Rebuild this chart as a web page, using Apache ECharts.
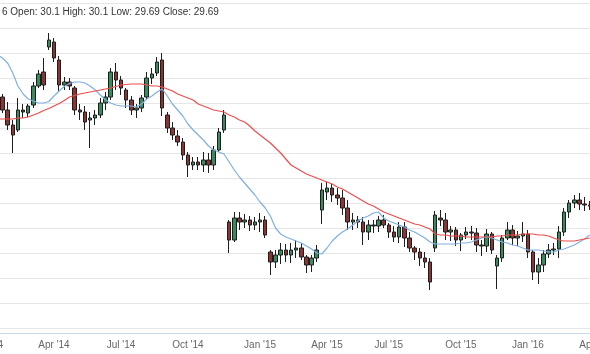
<!DOCTYPE html>
<html>
<head>
<meta charset="utf-8">
<title>Price chart</title>
<script src="https://cdn.jsdelivr.net/npm/echarts@6.0.0/dist/echarts.min.js"></script>
<style>
  html, body { margin: 0; padding: 0; background: #fff; }
  #chart { width: 590px; height: 354px; }
</style>
</head>
<body>
<div id="chart"></div>
<script>
// weekly candles, values
const opens = [
  40.1, 40.6, 39.3, 37.8, 37.3, 39.3, 39.0, 39.8, 41.7, 43.1,
  45.6, 46.1, 44.3, 41.8, 42.1, 41.5, 39.3, 39.1, 38.3, 38.5,
  38.8, 40.0, 40.6, 43.1, 42.3, 41.3, 40.3, 39.3, 39.5, 40.6,
  42.5, 43.0, 44.3, 38.8, 37.5, 36.7, 36.1, 34.8, 33.8, 34.1,
  33.8, 34.3, 33.8, 35.3, 37.3, 28.1, 26.3, 28.5, 28.1, 28.3,
  27.8, 28.1, 28.3, 25.1, 24.1, 24.8, 25.3, 24.8, 25.3, 25.5,
  24.6, 23.8, 24.5, 29.3, 31.1, 31.5, 30.8, 30.5, 29.5, 28.1,
  28.3, 28.1, 27.1, 27.8, 27.7, 28.3, 27.8, 27.1, 26.6, 27.6,
  26.5, 25.5, 25.1, 24.5, 24.1, 25.5, 28.5, 28.3, 27.1, 27.3,
  26.3, 26.8, 27.1, 27.0, 25.8, 25.7, 26.9, 23.7, 24.5, 26.5,
  27.3, 26.5, 26.7, 26.9, 25.1, 23.1, 23.8, 24.9, 25.3, 25.4,
  27.1, 29.1, 30.0, 30.3, 29.9, 29.8
];
const closes = [
  40.7, 39.3, 37.8, 36.8, 39.3, 39.1, 39.7, 41.7, 42.9, 41.8,
  46.3, 44.5, 41.8, 42.1, 41.7, 39.3, 39.1, 38.1, 38.5, 38.8,
  40.0, 40.6, 43.1, 42.3, 41.5, 40.3, 39.3, 39.5, 40.5, 42.5,
  42.9, 44.1, 39.5, 37.5, 36.8, 36.1, 34.8, 33.8, 34.1, 33.8,
  34.3, 33.8, 35.3, 37.1, 38.8, 26.3, 28.5, 28.1, 28.3, 27.8,
  28.1, 28.3, 26.8, 24.1, 24.8, 25.3, 24.8, 25.3, 25.5, 24.6,
  23.8, 24.5, 25.3, 31.3, 31.5, 30.8, 30.5, 29.5, 28.1, 28.3,
  28.1, 27.1, 27.8, 27.7, 28.3, 27.8, 27.1, 26.6, 27.6, 26.5,
  25.5, 25.1, 24.5, 24.1, 22.1, 28.8, 28.3, 27.1, 27.3, 26.3,
  26.8, 27.1, 27.0, 25.8, 25.7, 26.9, 25.3, 24.5, 26.5, 27.3,
  26.5, 26.7, 26.9, 25.1, 23.1, 23.8, 24.9, 25.3, 25.4, 27.1,
  29.1, 30.0, 30.3, 29.9, 29.8, 29.69
];
const lows = [
  39.7, 39.0, 37.3, 35.0, 37.1, 38.5, 38.6, 39.5, 41.5, 41.3,
  45.3, 44.1, 41.1, 41.3, 41.3, 38.8, 38.3, 37.3, 35.5, 37.8,
  38.5, 39.3, 40.3, 41.3, 40.8, 39.5, 38.8, 38.5, 39.1, 40.3,
  41.9, 42.7, 38.7, 37.0, 36.3, 35.7, 34.3, 32.6, 33.3, 33.3,
  33.1, 33.0, 33.3, 35.1, 37.0, 25.0, 26.1, 27.3, 27.5, 27.2,
  27.3, 27.1, 26.5, 22.8, 23.5, 23.9, 24.1, 24.0, 24.5, 24.3,
  23.0, 23.1, 24.1, 27.9, 30.3, 30.1, 29.8, 28.8, 27.3, 27.3,
  27.5, 25.8, 26.3, 27.0, 27.1, 27.5, 26.5, 26.1, 26.0, 25.6,
  25.1, 24.3, 23.7, 23.5, 21.3, 25.1, 27.7, 26.3, 26.2, 25.7,
  25.2, 26.4, 26.3, 25.1, 24.7, 25.1, 24.9, 21.4, 24.1, 26.3,
  25.8, 25.7, 26.1, 24.5, 22.3, 21.9, 23.1, 24.5, 24.8, 24.5,
  26.7, 28.5, 29.5, 29.3, 29.2, 29.3
];
const highs = [
  41.1, 40.9, 40.1, 38.3, 40.5, 39.9, 39.9, 42.1, 43.3, 44.5,
  47.0, 46.5, 44.7, 42.6, 42.5, 41.7, 39.9, 39.7, 39.1, 39.3,
  40.5, 41.1, 43.5, 44.0, 42.7, 41.5, 40.7, 39.9, 40.8, 43.1,
  43.5, 44.6, 45.0, 39.1, 38.1, 37.3, 36.5, 35.1, 34.6, 34.6,
  35.1, 35.0, 35.7, 37.5, 39.3, 28.3, 29.1, 29.1, 28.9, 28.7,
  28.6, 29.0, 28.7, 25.3, 25.3, 26.0, 25.9, 26.0, 26.3, 26.0,
  24.8, 24.8, 25.8, 32.0, 32.1, 31.9, 31.5, 31.3, 30.3, 29.0,
  28.7, 28.6, 28.3, 28.3, 28.7, 28.8, 28.0, 27.7, 28.1, 28.1,
  27.1, 25.7, 25.5, 25.1, 24.5, 29.2, 29.3, 29.0, 27.7, 27.6,
  27.0, 27.6, 27.7, 27.5, 26.3, 27.4, 27.1, 24.8, 26.8, 28.1,
  27.8, 27.2, 28.1, 27.3, 25.3, 24.5, 25.3, 25.9, 26.0, 27.7,
  29.5, 30.3, 30.8, 31.0, 30.6, 30.2
];
// the two moving averages (blue = short, red = long)
const maShort = [
  44.8, 44.5, 44.0, 43.0, 41.7, 40.9, 40.4, 40.2, 40.0, 40.0,
  40.15, 40.7, 41.2, 41.65, 41.95, 42.1, 42.1, 42.0, 41.7, 41.3,
  40.8, 40.3, 40.0, 39.8, 39.7, 39.7, 39.7, 39.6, 39.9, 40.4,
  40.7, 41.1, 41.4, 40.7, 39.9, 39.3, 38.7, 37.9, 37.3, 36.8,
  36.3, 35.7, 35.3, 35.1, 34.9, 34.1, 33.3, 32.6, 32.0, 31.4,
  30.8, 30.1, 29.5, 28.7, 27.5, 26.9, 26.6, 26.4, 26.2, 26.0,
  25.7, 25.4, 25.0, 24.9, 25.5, 26.2, 26.7, 27.1, 27.4, 27.8,
  28.2, 28.5, 28.7, 29.0, 29.1, 28.5, 28.2, 28.0, 27.8, 27.6,
  27.3, 27.1, 26.8, 26.5, 26.1, 25.9, 25.9, 25.9, 25.9, 25.9,
  26.0, 26.0, 26.1, 26.3, 26.5, 26.6, 26.5, 26.3, 26.1, 26.0,
  25.8, 25.7, 25.5, 25.3, 25.3, 25.3, 25.2, 25.1, 25.1, 25.3,
  25.4, 25.6, 25.8, 26.1, 26.4, 26.8
];
const maLong = [
  38.4, 38.4, 38.4, 38.4, 38.5, 38.5, 38.6, 38.8, 39.0, 39.25,
  39.45, 39.7, 39.95, 40.25, 40.6, 40.75, 40.9, 41.0, 41.1, 41.2,
  41.3, 41.4, 41.5, 41.65, 41.8, 41.85, 41.9, 41.9, 41.9, 41.8,
  41.7, 41.7, 41.6, 41.4, 41.2, 40.9, 40.7, 40.5, 40.3, 39.9,
  39.7, 39.5, 39.3, 39.2, 39.1, 38.8, 38.6, 38.3, 38.1, 37.7,
  37.2, 36.8, 36.4, 36.0, 35.5, 35.0, 34.4, 33.8, 33.5, 33.2,
  32.9, 32.7, 32.5, 32.3, 32.1, 31.9, 31.6, 31.4, 31.1, 30.8,
  30.5, 30.2, 29.9, 29.7, 29.4, 29.1, 28.9, 28.7, 28.5, 28.3,
  28.1, 27.9, 27.8, 27.6, 27.4, 26.9, 26.8, 26.8, 26.7, 26.7,
  26.7, 26.6, 26.6, 26.6, 26.6, 26.6, 26.6, 26.7, 26.7, 26.8,
  26.8, 26.8, 26.9, 26.9, 26.9, 26.8, 26.8, 26.7, 26.5, 26.3,
  26.2, 26.2, 26.2, 26.3, 26.4, 26.5
];
const tickIdx = [1, 14, 27, 40, 54, 67, 79, 93, 106, 119];
const tickLabels = ["Jan '14", "Apr '14", "Jul '14", "Oct '14", "Jan '15", "Apr '15", "Jul '15", "Oct '15", "Jan '16", "Apr '16"];
const header = "6 Open: 30.1 High: 30.1 Low: 29.69 Close: 29.69";

const leadWeeks = 3; // empty weeks before the first candle (left of the picture)
const weekCount = 120;
const weeks = [];
const start = Date.UTC(2013, 11, 23);
for (let i = 0; i < weekCount; i++) {
  weeks.push(new Date(start + i * 7 * 864e5).toISOString().slice(0, 10));
}
const labelAt = {};
tickIdx.forEach((t, i) => { labelAt[t] = tickLabels[i]; });

const lead = new Array(leadWeeks).fill('-');
const candles = new Array(leadWeeks).fill(['-', '-', '-', '-'])
  .concat(opens.map((o, i) => [o, closes[i], lows[i], highs[i]]));

const chart = echarts.init(document.getElementById('chart'), null, { renderer: 'canvas' });
chart.setOption({
  animation: false,
  grid: {
    left: -20.7,
    right: -7.5,
    top: 3,
    bottom: 26,
    containLabel: false,
    outerBoundsMode: 'none'
  },
  graphic: [{
    type: 'text',
    left: 2,
    top: 7,
    style: {
      text: header,
      font: '10px "Liberation Sans", Arial, sans-serif',
      fill: '#333333'
    }
  }],
  xAxis: {
    type: 'category',
    data: weeks,
    offset: 5,
    axisLine: { lineStyle: { color: '#ccd6eb', width: 1 } },
    axisTick: {
      alignWithLabel: true,
      length: 6,
      interval: (idx) => labelAt[idx] !== undefined,
      lineStyle: { color: '#ccd6eb' }
    },
    axisLabel: {
      interval: (idx) => labelAt[idx] !== undefined,
      formatter: (val, idx) => labelAt[idx] || '',
      color: '#666666',
      fontSize: 10,
      fontFamily: '"Liberation Sans", Arial, sans-serif',
      margin: 7
    },
    splitLine: { show: false }
  },
  yAxis: {
    type: 'value',
    min: 17.5,
    max: 50,
    interval: 2.5,
    axisLine: { show: false },
    axisTick: { show: false },
    axisLabel: { show: false },
    splitLine: { lineStyle: { color: '#e6e6e6', width: 1 } }
  },
  series: [
    {
      name: 'price',
      type: 'candlestick',
      data: candles,
      barWidth: 4,
      itemStyle: {
        color: '#3b8a5e',
        color0: '#8a3434',
        borderColor: '#1e1e1e',
        borderColor0: '#1e1e1e',
        borderWidth: 1
      }
    },
    {
      name: 'MA short',
      type: 'line',
      data: lead.concat(maShort),
      showSymbol: false,
      symbol: 'none',
      lineStyle: { color: '#7fb0e0', width: 1.2 },
      z: 3
    },
    {
      name: 'MA long',
      type: 'line',
      data: lead.concat(maLong),
      showSymbol: false,
      symbol: 'none',
      lineStyle: { color: '#ee4d4d', width: 1.2 },
      z: 3
    }
  ]
});
</script>
</body>
</html>
